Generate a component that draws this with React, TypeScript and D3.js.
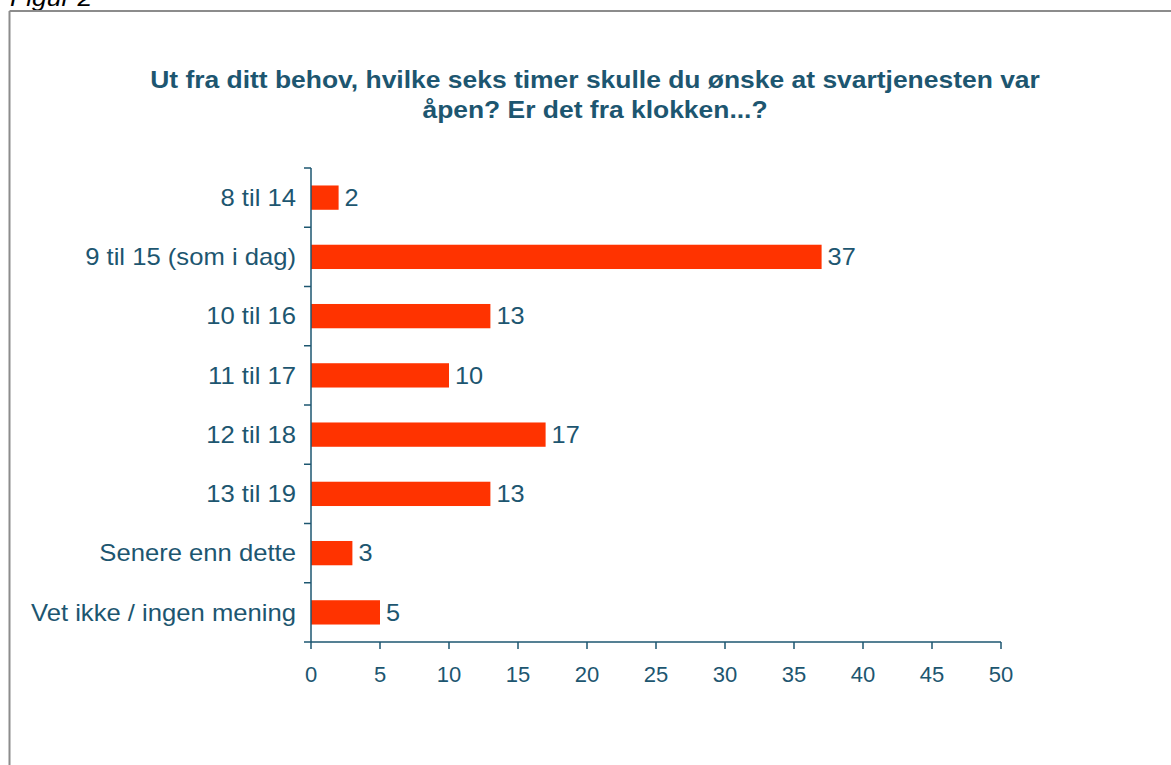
import React from "react";
import * as d3 from "d3";

const categories = [
  "8 til 14",
  "9 til 15 (som i dag)",
  "10 til 16",
  "11 til 17",
  "12 til 18",
  "13 til 19",
  "Senere enn dette",
  "Vet ikke / ingen mening",
];
const values = [2, 37, 13, 10, 17, 13, 3, 5];
const xTicks = [0, 5, 10, 15, 20, 25, 30, 35, 40, 45, 50];
const titleLines = [
  "Ut fra ditt behov, hvilke seks timer skulle du ønske at svartjenesten var",
  "åpen? Er det fra klokken...?",
];

const W = 1171;
const H = 765;
const TEXT = "#1d5670";
const BAR = "#ff3300";
const FONT = "Liberation Sans, Arial, sans-serif";

type STProps = {
  x: number;
  y: number;
  sx?: number;
  anchor?: "start" | "middle" | "end";
  size: number;
  weight?: string;
  style?: string;
  fill?: string;
  dy?: string;
  children: React.ReactNode;
};

function ST({ x, y, sx = 1.12, anchor = "start", size, weight, style, fill = TEXT, dy, children }: STProps) {
  return (
    <text
      transform={`translate(${x},${y}) scale(${sx},1)`}
      textAnchor={anchor}
      fontSize={size}
      fontWeight={weight}
      fontStyle={style}
      fill={fill}
      dy={dy}
    >
      {children}
    </text>
  );
}

export default function App() {
  const left = 311;
  const right = 1001;
  const top = 168;
  const bottom = 642;
  const x = d3.scaleLinear().domain([0, 50]).range([left, right]);
  const y = d3
    .scaleBand<string>()
    .domain(categories)
    .range([top, bottom])
    .paddingInner(0.59)
    .paddingOuter(0.295);
  const bandStep = (bottom - top) / categories.length;
  const boundaries = d3.range(categories.length + 1).map((i) => top + i * bandStep);

  return (
    <svg
      width={W}
      height={H}
      style={{ position: "absolute", left: 0, top: 0, background: "#fff" }}
      fontFamily={FONT}
    >
      <rect x={0} y={0} width={W} height={H} fill="#fff" />
      <ST x={10} y={6} size={23} style="italic" fill="#000" sx={1.15}>
        Figur 2
      </ST>
      <line x1={9.5} y1={11} x2={W} y2={11} stroke="#8c8c8c" strokeWidth={2} />
      <line x1={9.5} y1={11} x2={9.5} y2={H} stroke="#8c8c8c" strokeWidth={2} />

      {titleLines.map((t, i) => (
        <ST key={i} x={595} y={87.5 + i * 30} anchor="middle" size={23} weight="bold" sx={1.15}>
          {t}
        </ST>
      ))}

      {categories.map((c, i) => (
        <g key={c}>
          <rect
            x={x(0)}
            y={y(c)!}
            width={x(values[i]) - x(0)}
            height={y.bandwidth()}
            fill={BAR}
          />
          <ST x={x(values[i]) + 6} y={y(c)! + y.bandwidth() / 2} dy="0.36em" size={23} sx={1.1}>
            {values[i]}
          </ST>
          <ST
            x={left - 15}
            y={y(c)! + y.bandwidth() / 2}
            dy="0.36em"
            anchor="end"
            size={23}
            sx={1.115}
          >
            {c}
          </ST>
        </g>
      ))}

      <line x1={left} y1={top} x2={left} y2={bottom} stroke={TEXT} strokeWidth={1.5} />
      {boundaries.map((b, i) => (
        <line key={i} x1={left - 7} y1={b} x2={left} y2={b} stroke={TEXT} strokeWidth={1.5} />
      ))}
      <line x1={left} y1={bottom} x2={right} y2={bottom} stroke={TEXT} strokeWidth={1.5} />
      {xTicks.map((t) => (
        <g key={t}>
          <line x1={x(t)} y1={bottom} x2={x(t)} y2={bottom + 7} stroke={TEXT} strokeWidth={1.5} />
          <ST x={x(t)} y={bottom + 40} anchor="middle" size={22} sx={1}>
            {t}
          </ST>
        </g>
      ))}
    </svg>
  );
}
